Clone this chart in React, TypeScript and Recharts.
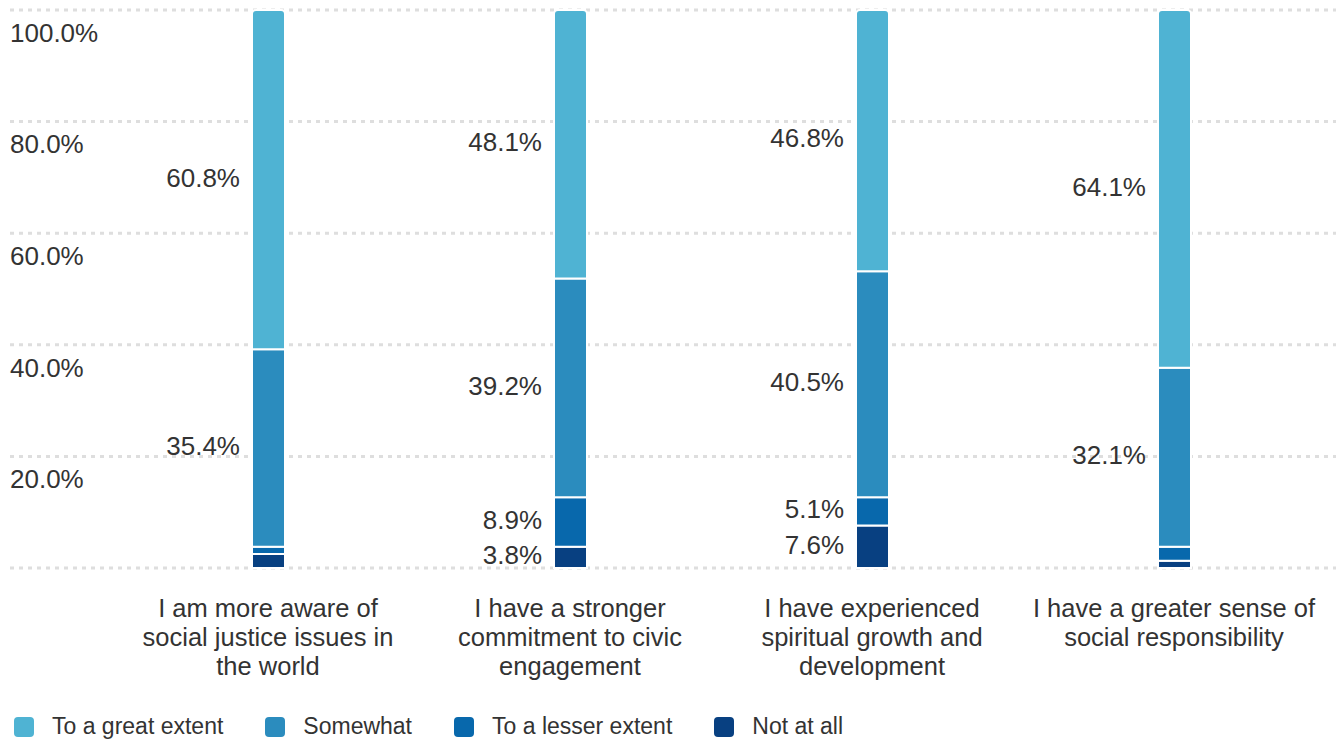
import React from "react";
import { BarChart, Bar, XAxis, YAxis, CartesianGrid, Legend, LabelList } from "recharts";

const categories = [
  ["I am more aware of", "social justice issues in", "the world"],
  ["I have a stronger", "commitment to civic", "engagement"],
  ["I have experienced", "spiritual growth and", "development"],
  ["I have a greater sense of", "social responsibility"],
];

const notAtAll = [2.5, 3.8, 7.6, 1.3];
const lesserExtent = [1.3, 8.9, 5.1, 2.5];
const somewhat = [35.4, 39.2, 40.5, 32.1];
const greatExtent = [60.8, 48.1, 46.8, 64.1];

const yTicks = [0, 20, 40, 60, 80, 100];

const SERIES = [
  { key: "great", name: "To a great extent", color: "#4fb3d3" },
  { key: "somewhat", name: "Somewhat", color: "#2b8cbe" },
  { key: "lesser", name: "To a lesser extent", color: "#0868ac" },
  { key: "none", name: "Not at all", color: "#084081" },
];

const data = categories.map((c, i) => ({
  name: c.join(" "),
  none: notAtAll[i],
  lesser: lesserExtent[i],
  somewhat: somewhat[i],
  great: greatExtent[i],
}));

const FONT = "'Liberation Sans', Arial, sans-serif";
const TEXT = "#333";

function XTick(props: any) {
  const { x, y, payload } = props;
  const lines = categories[payload.index] || [];
  return (
    <text x={x} y={y} textAnchor="middle" fontSize={25.5} fill={TEXT} fontFamily={FONT}>
      {lines.map((l, i) => (
        <tspan key={i} x={x} dy={i === 0 ? 40 : 29} dominantBaseline="middle">
          {l}
        </tspan>
      ))}
    </text>
  );
}

function YTick(props: any) {
  const { x, y, payload } = props;
  if (payload.value === 0) return null;
  return (
    <text x={x} y={y + 25} textAnchor="start" dominantBaseline="middle" fontSize={26} fill={TEXT} fontFamily={FONT}>
      {payload.value.toFixed(1) + "%"}
    </text>
  );
}

function ValueLabel(props: any) {
  const { x, y, height, value } = props;
  if (value == null || value < 3) return null;
  return (
    <text x={x - 12} y={y + height / 2} textAnchor="end" dominantBaseline="middle" fontSize={26} fill={TEXT} fontFamily={FONT}>
      {Number(value).toFixed(1) + "%"}
    </text>
  );
}

function LegendContent() {
  return (
    <div style={{ display: "flex", alignItems: "center", paddingTop: 31, paddingLeft: 14, fontFamily: FONT, fontSize: 23, color: TEXT }}>
      {SERIES.map((s) => (
        <div key={s.key} style={{ display: "flex", alignItems: "center", marginRight: 42 }}>
          <span style={{ width: 20, height: 20, borderRadius: 4, background: s.color, marginRight: 18, display: "inline-block" }} />
          <span>{s.name}</span>
        </div>
      ))}
    </div>
  );
}

const stackOrder = [...SERIES].reverse();

export default function App() {
  return (
    <div style={{ position: "absolute", left: 0, top: 0, background: "#fff" }}>
      <BarChart width={1336} height={742} data={data} margin={{ top: 10, right: 0, bottom: 0, left: 10 }} barSize={33}>
        <CartesianGrid vertical={false} stroke="#dedede" strokeWidth={3} strokeDasharray="4 5" />
        <XAxis
          dataKey="name"
          height={114}
          axisLine={false}
          tickLine={false}
          tickSize={0}
          tick={<XTick />}
          interval={0}
          padding={{ left: 107, right: 11 }}
        />
        <YAxis
          mirror
          width={80}
          domain={[0, 100]}
          ticks={yTicks}
          axisLine={false}
          tickLine={false}
          tickSize={0}
          tickMargin={0}
          tick={<YTick />}
          interval={0}
        />
        <Legend verticalAlign="bottom" height={60} content={<LegendContent />} wrapperStyle={{ left: 0, width: 1336 }} />
        {stackOrder.map((s) => (
          <Bar
            key={s.key}
            dataKey={s.key}
            name={s.name}
            stackId="a"
            fill={s.color}
            stroke="#fff"
            strokeWidth={2}
            radius={s.key === "great" ? [4, 4, 0, 0] : 0}
            isAnimationActive={false}
          >
            <LabelList dataKey={s.key} content={<ValueLabel />} />
          </Bar>
        ))}
      </BarChart>
    </div>
  );
}
